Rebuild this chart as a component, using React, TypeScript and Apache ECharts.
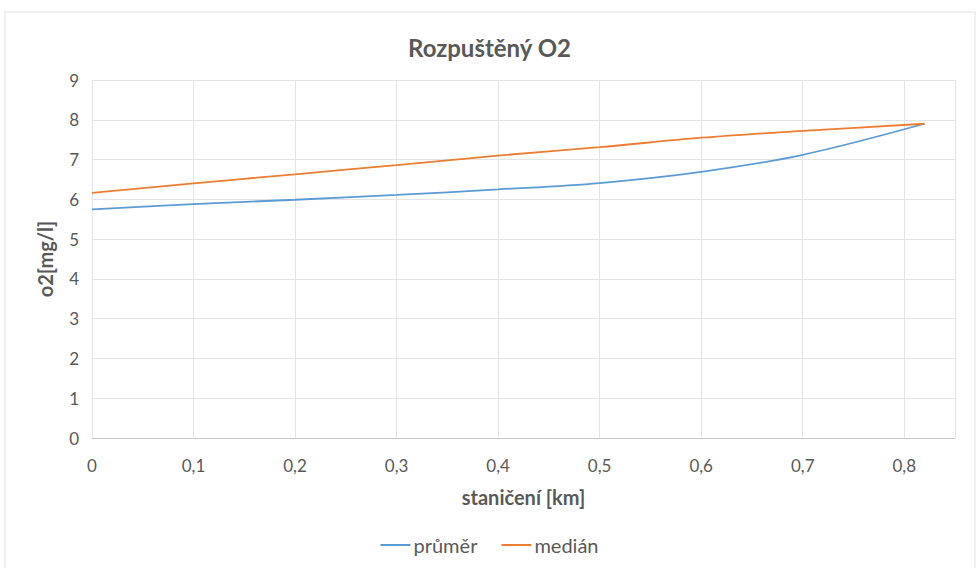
import React, { useEffect, useRef } from "react";
import * as echarts from "echarts";

const stations = [0, 0.1, 0.2, 0.3, 0.4, 0.5, 0.6, 0.7, 0.82];
const prumer = [5.75, 5.88, 5.99, 6.11, 6.25, 6.41, 6.69, 7.12, 7.9];
const median = [6.16, 6.4, 6.63, 6.86, 7.1, 7.31, 7.55, 7.72, 7.9];
const seriesNames = ["průměr", "medián"];
const title = "Rozpuštěný O2";
const xName = "staničení [km]";
const yName = "o2[mg/l]";

const FONT = "Lato, 'Open Sans', sans-serif";
const GRAY = "#595959";

export default function App() {
  const ref = useRef<HTMLDivElement>(null);
  useEffect(() => {
    if (!ref.current) return;
    const chart = echarts.init(ref.current, undefined, { renderer: "svg" });
    chart.setOption({
      animation: false,
      backgroundColor: "#ffffff",
      textStyle: { fontFamily: FONT },
      graphic: [
        {
          type: "rect",
          shape: { x: 5, y: 12, width: 970, height: 570 },
          style: { fill: "none", stroke: "#ececec", lineWidth: 1.5 },
          silent: true,
          z: -10,
        },
      ],
      title: {
        text: title,
        left: "center",
        top: 30,
        textStyle: { fontFamily: FONT, fontSize: 24, fontWeight: "bold", color: GRAY },
      },
      legend: {
        bottom: 8,
        left: "center",
        itemWidth: 30,
        itemHeight: 2,
        itemGap: 24,
        icon: "rect",
        textStyle: { fontFamily: FONT, fontSize: 20, color: GRAY, padding: [0, 0, 0, -2] },
        data: seriesNames,
      },
      grid: { left: 92, right: 24, top: 80, bottom: 130 },
      xAxis: {
        type: "value",
        min: 0,
        max: 0.85,
        interval: 0.1,
        name: xName,
        nameLocation: "middle",
        nameGap: 49,
        nameTextStyle: { fontFamily: FONT, fontSize: 20, fontWeight: "bold", color: GRAY },
        axisLine: { show: true, lineStyle: { color: "#c8c8c8" } },
        axisTick: { show: false },
        axisLabel: {
          fontFamily: FONT,
          fontSize: 17,
          color: GRAY,
          margin: 19,
          showMaxLabel: false,
          formatter: (v: number) =>
            Math.abs(v - 0.85) < 1e-6 ? "" : String(Math.round(v * 10) / 10).replace(".", ","),
        },
        splitLine: { show: true, lineStyle: { color: "#e4e4e4" } },
      },
      yAxis: {
        type: "value",
        min: 0,
        max: 9,
        interval: 1,
        name: yName,
        nameLocation: "middle",
        nameGap: 37,
        nameTextStyle: { fontFamily: FONT, fontSize: 20, fontWeight: "bold", color: GRAY },
        axisLine: { show: false },
        axisTick: { show: false },
        axisLabel: { fontFamily: FONT, fontSize: 17, color: GRAY, margin: 13 },
        splitLine: { show: true, lineStyle: { color: "#e4e4e4" } },
      },
      series: [
        {
          name: seriesNames[0],
          type: "line",
          smooth: 0.35,
          showSymbol: false,
          symbol: "none",
          lineStyle: { color: "#5b9bd5", width: 1.8 },
          itemStyle: { color: "#5b9bd5" },
          data: stations.map((s, i) => [s, prumer[i]]),
        },
        {
          name: seriesNames[1],
          type: "line",
          smooth: 0.35,
          showSymbol: false,
          symbol: "none",
          lineStyle: { color: "#ed7d31", width: 1.8 },
          itemStyle: { color: "#ed7d31" },
          data: stations.map((s, i) => [s, median[i]]),
        },
      ],
    });
    return () => chart.dispose();
  }, []);
  return (
    <div
      ref={ref}
      style={{ width: 979, height: 568, position: "absolute", left: 0, top: 0 }}
    />
  );
}
